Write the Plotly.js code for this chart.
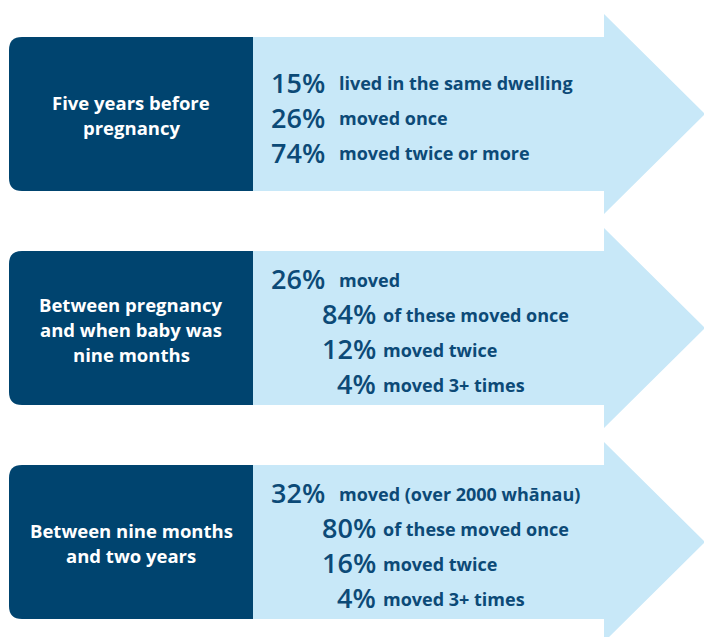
<!DOCTYPE html>
<html>
<head>
<meta charset="utf-8">
<script src="https://cdn.plot.ly/plotly-3.0.1.min.js"></script>
<style>html,body{margin:0;padding:0;background:#fff;}#chart{width:704px;height:637px;}</style>
</head>
<body>
<div id="chart"></div>
<script>
// ---- data ----
const periods = ["Five years before<br>pregnancy", "Between pregnancy<br>and when baby was<br>nine months", "Between nine months<br>and two years"];
const p1Pct = [15, 26, 74];
const p1Lbl = ["lived in the same dwelling", "moved once", "moved twice or more"];
const p1Lvl = [0, 0, 0];
const p2Pct = [26, 84, 12, 4];
const p2Lbl = ["moved", "of these moved once", "moved twice", "moved 3+ times"];
const p2Lvl = [0, 1, 1, 1];
const p3Pct = [32, 80, 16, 4];
const p3Lbl = ["moved (over 2000 wh\u0101nau)", "of these moved once", "moved twice", "moved 3+ times"];
const p3Lvl = [0, 1, 1, 1];

// ---- layout / style ----
const W = 704, H = 637;
const DARK = "#00446F", LIGHT = "#C8E8F8", TEXT = "#0C4A77";
const FONT = "Open Sans";
const groups = [
  {pct: p1Pct, lbl: p1Lbl, lvl: p1Lvl},
  {pct: p2Pct, lbl: p2Lbl, lvl: p2Lvl},
  {pct: p3Pct, lbl: p3Lbl, lvl: p3Lvl}
];
const centers = [114, 328, 542];
const bodyHalf = 77, headHalf = 100;
const xL = 9, xSplit = 253, xHead = 604, xTip = 705, r = 13;
const pctRight = [327, 378], lblLeft = [337, 381];
const rowGap = 35, hdrGap = 25;

const shapes = [], annotations = [];
groups.forEach((g, k) => {
  const c = centers[k];
  const t = c - bodyHalf, b = c + bodyHalf;
  shapes.push({type: "path", layer: "below", line: {width: 0}, fillcolor: LIGHT,
    path: `M ${xSplit - 2} ${t} L ${xHead} ${t} L ${xHead} ${c - headHalf} L ${xTip} ${c} L ${xHead} ${c + headHalf} L ${xHead} ${b} L ${xSplit - 2} ${b} Z`});
  shapes.push({type: "path", layer: "below", line: {width: 0}, fillcolor: DARK,
    path: `M ${xL + r} ${t} L ${xSplit} ${t} L ${xSplit} ${b} L ${xL + r} ${b} Q ${xL} ${b} ${xL} ${b - r} L ${xL} ${t + r} Q ${xL} ${t} ${xL + r} ${t} Z`});
  const lines = periods[k].split("<br>");
  lines.forEach((ln, i) => {
    annotations.push({x: (xL + xSplit) / 2, y: c + 1 + (i - (lines.length - 1) / 2) * hdrGap,
      xref: "x", yref: "y", text: ln, showarrow: false, xanchor: "center", yanchor: "middle",
      font: {family: FONT, size: 18.5, color: "#ffffff", weight: 700}});
  });
  const n = g.pct.length;
  g.pct.forEach((v, i) => {
    const y = c + 3 + (i - (n - 1) / 2) * rowGap;
    annotations.push({x: pctRight[g.lvl[i]], y: y, xref: "x", yref: "y", text: v + "%", showarrow: false,
      xanchor: "right", yanchor: "middle", font: {family: FONT, size: 27, color: TEXT, weight: 600}});
    annotations.push({x: lblLeft[g.lvl[i]], y: y + 1, xref: "x", yref: "y", text: g.lbl[i], showarrow: false,
      xanchor: "left", yanchor: "middle", font: {family: FONT, size: 18, color: TEXT, weight: 700}});
  });
});

Plotly.newPlot("chart", [], {
  width: W, height: H, margin: {l: 0, r: 0, t: 0, b: 0},
  paper_bgcolor: "#ffffff", plot_bgcolor: "#ffffff",
  xaxis: {range: [0, W], visible: false, fixedrange: true},
  yaxis: {range: [H, 0], visible: false, fixedrange: true},
  shapes: shapes, annotations: annotations, showlegend: false
}, {staticPlot: true, displayModeBar: false});
</script>
</body>
</html>
